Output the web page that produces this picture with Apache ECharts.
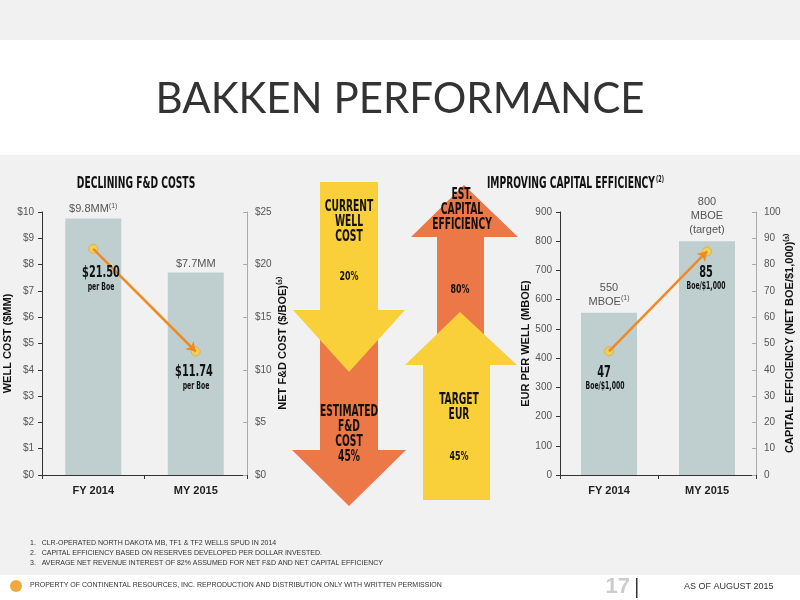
<!DOCTYPE html>
<html><head><meta charset="utf-8">
<script src="https://cdn.jsdelivr.net/npm/echarts@6/dist/echarts.min.js"></script>
<style>html,body{margin:0;padding:0;background:#f0f1f0}#c{width:800px;height:600px}</style>
</head><body><div id="c"></div>
<script>
const categories = ['FY 2014', 'MY 2015'];
const wellCost = [9.75, 7.7];             // $MM
const wellCostLabels = ['$9.8MM', '$7.7MM'];
const fdCost = [21.5, 11.74];             // $/BOE
const eur = [555, 800];                   // MBOE
const capEff = [47, 85];                  // BOE/$1,000

const cond = '"DejaVu Sans Condensed","Liberation Sans",sans-serif';
const chart = echarts.init(document.getElementById('c'));

function axisY(gi, min, max, interval, fmt, name, right, extra) {
  return Object.assign({
    gridIndex: gi, type: 'value', min: min, max: max, interval: interval, position: right ? 'right' : 'left',
    splitLine: { show: false },
    axisLine: { show: true, lineStyle: { color: right ? '#aaa' : '#333' } },
    axisTick: { show: true, length: 4, inside: !!right, lineStyle: { color: right ? '#aaa' : '#333' } },
    axisLabel: { color: '#555', fontSize: 10, formatter: fmt, margin: 8 },
    name: name, nameLocation: 'middle', nameGap: right ? 30 : 17, nameRotate: 90,
    nameTextStyle: { fontWeight: 'bold', fontSize: 11, color: '#111' }
  }, extra || {});
}
function axisX(gi) {
  return { gridIndex: gi, type: 'category', data: categories,
    axisLine: { lineStyle: { color: '#333' } }, axisTick: { show: true, length: 4 },
    axisLabel: { fontWeight: 'bold', fontSize: 11, color: '#222', margin: 10 } };
}
const rich = { s: { fontSize: 7, verticalAlign: 'top', color: '#555', padding: [0, 0, 6, 0] }, t: { fontSize: 11, color: '#555' } };

function arrowDown(x0, x1, yTop, yBase, hx0, hx1, tipY, color) {
  const cx = (hx0 + hx1) / 2;
  return { type: 'polygon', shape: { points: [[x0, yTop], [x1, yTop], [x1, yBase], [hx1, yBase], [cx, tipY], [hx0, yBase], [x0, yBase]] }, style: { fill: color } };
}
function arrowUp(x0, x1, yBot, yBase, hx0, hx1, tipY, tipX, color) {
  return { type: 'polygon', shape: { points: [[x0, yBot], [x1, yBot], [x1, yBase], [hx1, yBase], [tipX, tipY], [hx0, yBase], [x0, yBase]] }, style: { fill: color } };
}
// narrow bold text: squeeze horizontally
function txt(x, y, s, size, extra) {
  return { type: 'text', x: x, y: y, scaleX: 0.68, z: 100,
    style: Object.assign({ text: s, font: 'bold ' + size + 'px ' + cond, fill: '#111', align: 'center' }, extra || {}) };
}
const OR = '#ec7848', YE = '#f9cf3a';

chart.setOption({
  backgroundColor: '#f0f1f0',
  animation: false,
  graphic: [
    { type: 'rect', shape: { x: 0, y: 40, width: 800, height: 115 }, style: { fill: '#fff' }, z: -10 },
    { type: 'rect', shape: { x: 0, y: 575, width: 800, height: 25 }, style: { fill: '#fff' }, z: -10 },
    { type: 'text', x: 400, y: 78, style: { text: 'BAKKEN PERFORMANCE', font: '42px Lato,"Open Sans",sans-serif', fill: '#333', align: 'center' } },
    txt(136, 177, 'DECLINING F&D COSTS', 15),
    txt(655, 177, 'IMPROVING CAPITAL EFFICIENCY', 15, { align: 'right' }),
    txt(656, 176, '(2)', 8, { align: 'left' }),
    arrowDown(320, 378, 320, 450, 292, 406, 506, OR),
    arrowDown(320, 378, 182, 310, 293, 405, 372, YE),
    txt(349, 200, 'CURRENT\nWELL\nCOST', 15, { lineHeight: 15 }),
    txt(349, 270, '20%', 13),
    txt(349, 405, 'ESTIMATED\nF&D\nCOST\n45%', 15, { lineHeight: 15 }),
    arrowUp(437, 484, 345, 237, 411, 518, 185, 464, OR),
    arrowUp(423, 490, 500, 365, 405, 517, 312, 460, YE),
    txt(462, 188, 'EST.\nCAPITAL\nEFFICIENCY', 15, { lineHeight: 15 }),
    txt(460, 283, '80%', 13),
    txt(459, 393, 'TARGET\nEUR', 15, { lineHeight: 15 }),
    txt(459, 450, '45%', 13),
    txt(101, 265, '$21.50', 16), txt(101, 282, 'per Boe', 10),
    txt(194, 364, '$11.74', 16), txt(196, 381, 'per Boe', 10),
    txt(604, 365, '47', 16), txt(605, 381, 'Boe/$1,000', 10),
    txt(706, 265, '85', 16), txt(706, 281, 'Boe/$1,000', 10),
    { type: 'text', x: 30, y: 538, style: { text: '1.   CLR-OPERATED NORTH DAKOTA MB, TF1 & TF2 WELLS SPUD IN 2014\n2.   CAPITAL EFFICIENCY BASED ON RESERVES DEVELOPED PER DOLLAR INVESTED.\n3.   AVERAGE NET REVENUE INTEREST OF 82% ASSUMED FOR NET F&D AND NET CAPITAL EFFICIENCY', font: '7px "Liberation Sans",sans-serif', fill: '#333', lineHeight: 10 } },
    { type: 'text', x: 30, y: 582, style: { text: 'PROPERTY OF CONTINENTAL RESOURCES, INC. REPRODUCTION AND DISTRIBUTION ONLY WITH WRITTEN PERMISSION', font: '7px "Liberation Sans",sans-serif', fill: '#333' } },
    { type: 'circle', shape: { cx: 16, cy: 586, r: 6 }, style: { fill: '#f2a93b' } },
    { type: 'text', x: 630, y: 576, style: { text: '17', font: 'bold 22px "Liberation Sans",sans-serif', fill: '#ccc', align: 'right' } },
    { type: 'rect', shape: { x: 636, y: 578, width: 1.5, height: 20 }, style: { fill: '#333' } },
    { type: 'text', x: 684, y: 582, style: { text: 'AS OF AUGUST 2015', font: '9px "Liberation Sans",sans-serif', fill: '#333' } }
  ],
  grid: [
    { left: 42, right: 553, top: 212, bottom: 125 },
    { left: 560, right: 44, top: 212, bottom: 125 }
  ],
  xAxis: [axisX(0), axisX(1)],
  yAxis: [
    axisY(0, 0, 10, 1, '${value}', 'WELL COST ($MM)', false),
    axisY(0, 0, 25, 5, '${value}', 'NET F&D COST ($/BOE)\u207D\u00B3\u207E', true),
    axisY(1, 0, 900, 100, '{value}', 'EUR PER WELL (MBOE)', false, { nameGap: 28 }),
    axisY(1, 0, 100, 10, '{value}', 'CAPITAL EFFICIENCY (NET BOE/$1,000)\u207D\u00B3\u207E', true, { nameGap: 24 })
  ],
  series: [
    { type: 'bar', xAxisIndex: 0, yAxisIndex: 0, data: wellCost, barWidth: 56, itemStyle: { color: '#bfcfcf' },
      label: { show: true, position: 'top', distance: 3, rich: rich,
        formatter: p => p.dataIndex === 0 ? '{t|' + wellCostLabels[0] + '}{s|(1)}' : '{t|' + wellCostLabels[1] + '}' } },
    { type: 'bar', xAxisIndex: 1, yAxisIndex: 2, data: eur, barWidth: 56, itemStyle: { color: '#bfcfcf' },
      label: { show: true, position: 'top', distance: 4, rich: rich, lineHeight: 14,
        formatter: p => p.dataIndex === 0 ? '{t|550}\n{t|MBOE}{s|(1)}' : '{t|800}\n{t|MBOE}\n{t|(target)}' } },
    { type: 'lines', coordinateSystem: 'cartesian2d', xAxisIndex: 0, yAxisIndex: 1, z: 5,
      symbol: ['none', 'arrow'], symbolSize: 9,
      lineStyle: { color: '#ee8a23', width: 2.5, opacity: 1 },
      data: [{ coords: [[0, fdCost[0]], [1, fdCost[1]]] }] },
    { type: 'lines', coordinateSystem: 'cartesian2d', xAxisIndex: 1, yAxisIndex: 3, z: 5,
      symbol: ['none', 'arrow'], symbolSize: 9,
      lineStyle: { color: '#ee8a23', width: 2.5, opacity: 1 },
      data: [{ coords: [[0, capEff[0]], [1, capEff[1]]] }] },
    { type: 'scatter', xAxisIndex: 0, yAxisIndex: 1, data: fdCost, symbolSize: 9, z: 4,
      itemStyle: { color: '#f9cf3a', borderColor: '#e8a83a', borderWidth: 1 } },
    { type: 'scatter', xAxisIndex: 1, yAxisIndex: 3, data: capEff, symbolSize: 9, z: 4,
      itemStyle: { color: '#f9cf3a', borderColor: '#e8a83a', borderWidth: 1 } }
  ]
});
</script></body></html>
